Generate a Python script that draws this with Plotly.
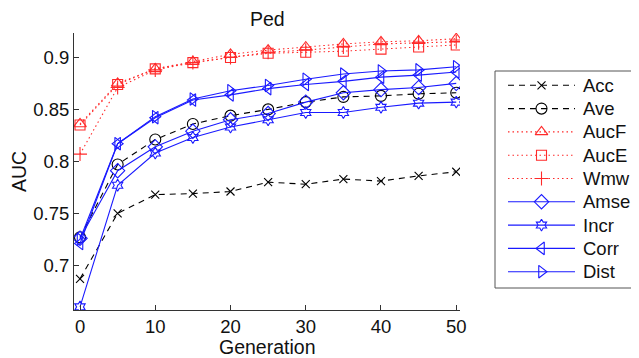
import plotly.graph_objects as go

generations = [0, 5, 10, 15, 20, 25, 30, 35, 40, 45, 50]

acc  = [0.687, 0.750, 0.768, 0.769, 0.771, 0.780, 0.778, 0.783, 0.781, 0.786, 0.790]
ave  = [0.727, 0.797, 0.821, 0.836, 0.844, 0.850, 0.857, 0.862, 0.863, 0.865, 0.866]
aucf = [0.836, 0.875, 0.889, 0.896, 0.903, 0.907, 0.910, 0.913, 0.915, 0.916, 0.918]
auce = [0.835, 0.874, 0.889, 0.895, 0.900, 0.904, 0.905, 0.906, 0.908, 0.910, 0.912]
wmw  = [0.807, 0.871, 0.888, 0.895, 0.900, 0.905, 0.907, 0.910, 0.913, 0.914, 0.915]
amse = [0.726, 0.791, 0.814, 0.829, 0.840, 0.846, 0.857, 0.866, 0.869, 0.871, 0.875]
incr = [0.660, 0.777, 0.808, 0.823, 0.833, 0.840, 0.847, 0.847, 0.852, 0.856, 0.857]
corr = [0.721, 0.817, 0.842, 0.859, 0.864, 0.870, 0.874, 0.877, 0.881, 0.883, 0.886]
dist = [0.725, 0.817, 0.843, 0.860, 0.868, 0.873, 0.879, 0.884, 0.887, 0.888, 0.891]

x_ticks = [0, 10, 20, 30, 40, 50]
y_ticks = [0.7, 0.75, 0.8, 0.85, 0.9]
y_tick_labels = ["0.7", "0.75", "0.8", "0.85", "0.9"]

BLACK = "#000000"
RED = "#ff2a2a"
BLUE = "#1a1aff"

series = [
    ("Acc", acc, BLACK, "dash", "x-thin-open", 8),
    ("Ave", ave, BLACK, "dash", "circle-open", 11),
    ("AucF", aucf, RED, "dot", "triangle-up-open", 11),
    ("AucE", auce, RED, "dot", "square-open", 10),
    ("Wmw", wmw, RED, "dot", "cross-thin-open", 10),
    ("Amse", amse, BLUE, "solid", "diamond-open", 11),
    ("Incr", incr, BLUE, "solid", "hexagram-open", 9),
    ("Corr", corr, BLUE, "solid", "triangle-left-open", 11),
    ("Dist", dist, BLUE, "solid", "triangle-right-open", 11),
]

# the page body adds an 8px margin, so the figure is laid out in window pixels minus 8
OFF = 8
W, H = 639 - OFF, 358 - OFF
PL, PR, PT, PB = 74 - OFF, 460 - OFF, 33 - OFF, 310 - OFF
LL, LR, LT, LB = 495 - OFF, 637 - OFF, 71 - OFF, 288 - OFF
ROW0, ROWSTEP = 14.3, 23.3
SAMPLE_X0, SAMPLE_X1, TEXT_X = 13, 80, 86

FONT = "Liberation Sans, Arial, sans-serif"
TXT = "#111111"
TICK_SIZE = 18.5
TITLE_SIZE = 19.5
LEGEND_SIZE = 18.5


def dash_of(d):
    return "6px,5px" if d == "dash" else "1.5px,3px" if d == "dot" else d


fig = go.Figure()
for i, (name, vals, color, dash, sym, size) in enumerate(series):
    fig.add_trace(go.Scatter(
        x=generations, y=vals, name=name, mode="lines+markers",
        line=dict(color=color, width=1.1, dash=dash_of(dash)),
        marker=dict(symbol=sym, size=size, color=color, line=dict(color=color, width=1.1)),
        showlegend=False, xaxis="x", yaxis="y",
    ))
    # custom legend entry (line sample + marker + label)
    ry = ROW0 + ROWSTEP * i
    fig.add_trace(go.Scatter(
        x=[SAMPLE_X0, SAMPLE_X1], y=[ry, ry], mode="lines",
        line=dict(color=color, width=1.1, dash=dash_of(dash)),
        showlegend=False, hoverinfo="skip", xaxis="x2", yaxis="y2",
    ))
    fig.add_trace(go.Scatter(
        x=[(SAMPLE_X0 + SAMPLE_X1) / 2], y=[ry], mode="markers",
        marker=dict(symbol=sym, size=size, color=color, line=dict(color=color, width=1.1)),
        showlegend=False, hoverinfo="skip", xaxis="x2", yaxis="y2",
    ))
    fig.add_annotation(x=TEXT_X, y=ry, xref="x2", yref="y2", text=name, showarrow=False,
                       xanchor="left", yanchor="middle",
                       font=dict(size=LEGEND_SIZE, family=FONT, color=TXT))

fig.add_shape(type="rect", xref="x2 domain", yref="y2 domain", x0=0, x1=1, y0=0, y1=1,
              line=dict(color="#555555", width=1), fillcolor="rgba(0,0,0,0)")

# axis titles and chart title
fig.add_annotation(text="Generation", x=(PL + PR) / 2 / W, y=1 - (346.7 - OFF) / H,
                   xref="paper", yref="paper", showarrow=False,
                   xanchor="center", yanchor="middle",
                   font=dict(size=TITLE_SIZE, family=FONT, color=TXT))
fig.add_annotation(text="AUC", x=(19 - OFF) / W, y=1 - (172 - OFF) / H,
                   xref="paper", yref="paper", showarrow=False, textangle=-90,
                   xanchor="center", yanchor="middle",
                   font=dict(size=TITLE_SIZE, family=FONT, color=TXT))
fig.add_annotation(text="Ped", x=(PL + PR) / 2 / W, y=1 - (19.5 - OFF) / H,
                   xref="paper", yref="paper", showarrow=False,
                   xanchor="center", yanchor="middle",
                   font=dict(size=TITLE_SIZE, family=FONT, color=TXT))

fig.update_layout(
    width=W, height=H,
    margin=dict(l=0, r=0, t=0, b=0),
    paper_bgcolor="white", plot_bgcolor="white",
    font=dict(family=FONT, size=TICK_SIZE, color=TXT),
    showlegend=False,
    xaxis=dict(
        domain=[PL / W, PR / W], anchor="y",
        range=[-0.8, 50.5], tickvals=x_ticks,
        showgrid=False, zeroline=False, showline=True, linecolor="#333333", linewidth=1,
        ticks="inside", ticklen=5, tickcolor="#333333",
        tickfont=dict(size=TICK_SIZE, family=FONT, color=TXT),
        automargin=False,
    ),
    yaxis=dict(
        domain=[1 - PB / H, 1 - PT / H], anchor="x",
        range=[0.657, 0.9235], tickvals=y_ticks, ticktext=y_tick_labels,
        showgrid=False, zeroline=False, showline=True, linecolor="#333333", linewidth=1,
        ticks="inside", ticklen=5, tickcolor="#333333",
        tickfont=dict(size=TICK_SIZE, family=FONT, color=TXT),
        automargin=False,
    ),
    xaxis2=dict(domain=[LL / W, LR / W], anchor="y2", range=[0, LR - LL],
                visible=False, fixedrange=True),
    yaxis2=dict(domain=[1 - LB / H, 1 - LT / H], anchor="x2", range=[LB - LT, 0],
                visible=False, fixedrange=True),
)

fig.write_html("out.html")
